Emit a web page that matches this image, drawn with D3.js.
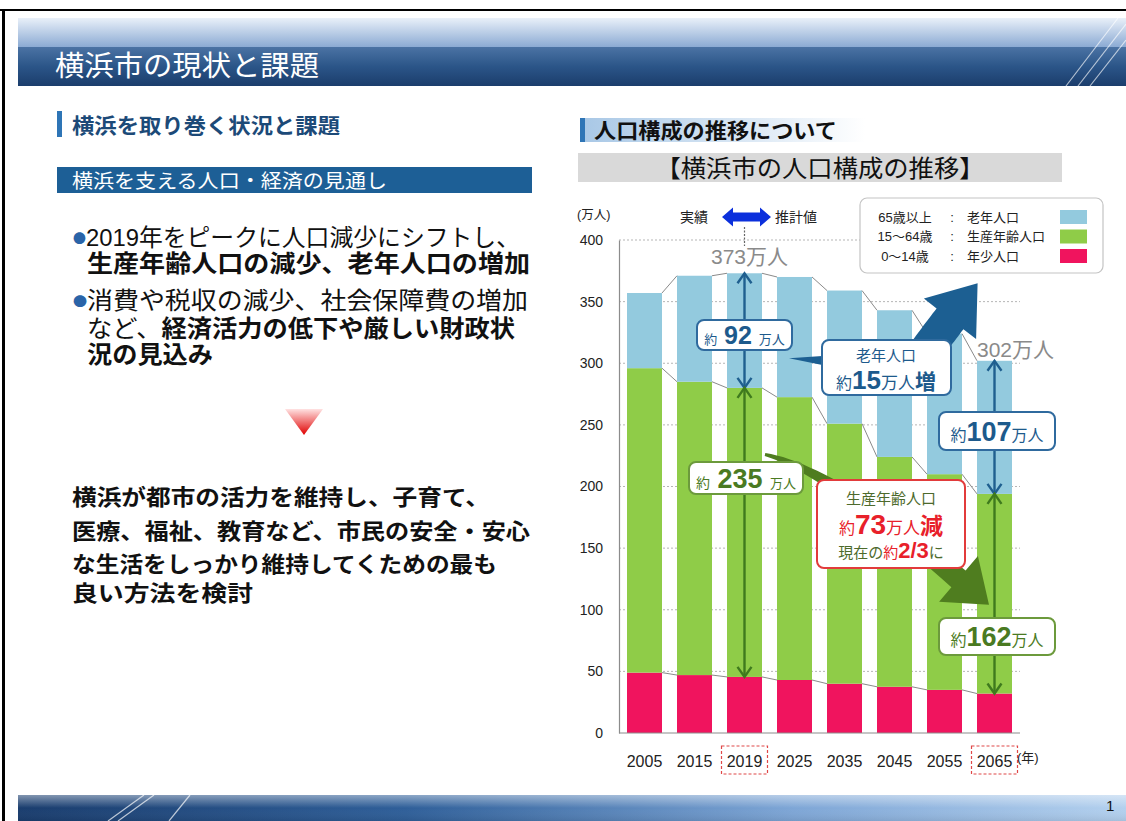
<!DOCTYPE html>
<html><head><meta charset="utf-8">
<script src="https://cdn.jsdelivr.net/npm/d3@7"></script>
<style>
body{margin:0;background:#fff;}
svg{display:block;font-family:"Liberation Sans","Noto Sans CJK JP",sans-serif;}
</style></head><body>
<svg id="chart" width="1126" height="821"></svg>
<script>
// data (万人)
const years = ["2005", "2015", "2019", "2025", "2035", "2045", "2055", "2065"];
const young = [49, 47, 45.5, 43, 40, 37.5, 35, 32];
const working = [247, 238, 234.5, 229.5, 211, 186.5, 175, 162];
const elderly = [61, 86, 93, 97.5, 108, 119, 114, 108];
const yTicks = [0, 50, 100, 150, 200, 250, 300, 350, 400];
const legendLeft = ["65歳以上", "15〜64歳", "0〜14歳"];
const legendRight = ["老年人口", "生産年齢人口", "年少人口"];
const keys = ["young", "working", "elderly"];
const colors = { young: "#f0145e", working: "#8fcc48", elderly: "#93cade" };

const table = years.map((yr, i) => ({ year: yr, young: young[i], working: working[i], elderly: elderly[i] }));

const svg = d3.select("#chart");
const defs = svg.append("defs");

function grad(id, stops, x2, y2) {
  const g = defs.append("linearGradient").attr("id", id)
    .attr("x1", 0).attr("y1", 0).attr("x2", x2).attr("y2", y2);
  stops.forEach(([o, c]) => g.append("stop").attr("offset", o).attr("stop-color", c));
}
grad("topLight", [[0, "#e9f0f9"], [1, "#88a8d2"]], 0, 1);
grad("topDark", [[0, "#4b73a4"], [0.5, "#2b5588"], [1, "#1b3d6c"]], 0, 1);
grad("botBar", [[0, "#1a3d6e"], [0.35, "#2f5f99"], [0.7, "#7ea6d6"], [1, "#b3d0ee"]], 1, 0);
grad("botShine", [[0, "rgba(255,255,255,0.45)"], [0.5, "rgba(255,255,255,0)"], [1, "rgba(0,0,0,0.08)"]], 0, 1);
grad("hdrFade", [[0, "#a9c8e6"], [1, "#ffffff"]], 1, 0);
grad("redTri", [[0, "#ffe2e2"], [1, "#e00000"]], 0, 1);

// ---- page frame and banners ----
svg.append("rect").attr("x", 0).attr("y", 9).attr("width", 1126).attr("height", 2).attr("fill", "#000");
svg.append("rect").attr("x", 2).attr("y", 9).attr("width", 3).attr("height", 812).attr("fill", "#000");

svg.append("rect").attr("x", 18).attr("y", 18).attr("width", 1108).attr("height", 30).attr("fill", "url(#topLight)");
svg.append("rect").attr("x", 18).attr("y", 47).attr("width", 1108).attr("height", 39).attr("fill", "url(#topDark)");
[[1066, 86, 1118, 18], [1078, 86, 1126, 24], [1090, 86, 1126, 40]].forEach(l =>
  svg.append("line").attr("x1", l[0]).attr("y1", l[1]).attr("x2", l[2]).attr("y2", l[3])
    .attr("stroke", "#fff").attr("stroke-opacity", 0.65).attr("stroke-width", 1.2));
svg.append("text").attr("x", 55).attr("y", 66).attr("dominant-baseline", "central")
  .attr("font-size", 28).attr("fill", "#fff").attr("textLength", 264).attr("lengthAdjust", "spacingAndGlyphs")
  .text("横浜市の現状と課題");

svg.append("rect").attr("x", 18).attr("y", 795).attr("width", 1108).attr("height", 26).attr("fill", "url(#botBar)");
svg.append("rect").attr("x", 18).attr("y", 795).attr("width", 1108).attr("height", 26).attr("fill", "url(#botShine)");
[[108, 821, 144, 795], [118, 821, 154, 795], [169, 821, 190, 795]].forEach(l =>
  svg.append("line").attr("x1", l[0]).attr("y1", l[1]).attr("x2", l[2]).attr("y2", l[3])
    .attr("stroke", "#fff").attr("stroke-opacity", 0.7).attr("stroke-width", 1.2));
svg.append("text").attr("x", 1106).attr("y", 805).attr("dominant-baseline", "central")
  .attr("font-size", 15).attr("fill", "#111").text("1");

// ---- left column ----
svg.append("rect").attr("x", 57).attr("y", 111).attr("width", 5).attr("height", 26).attr("fill", "#2e75b6");
svg.append("text").attr("x", 72).attr("y", 125).attr("dominant-baseline", "central")
  .attr("font-size", 21).attr("font-weight", "bold").attr("fill", "#1c4a78")
  .attr("textLength", 268).attr("lengthAdjust", "spacingAndGlyphs").text("横浜を取り巻く状況と課題");

svg.append("rect").attr("x", 57).attr("y", 167).attr("width", 475).attr("height", 26).attr("fill", "#1d5f96");
svg.append("text").attr("x", 72).attr("y", 181).attr("dominant-baseline", "central")
  .attr("font-size", 19).attr("fill", "#fff").attr("textLength", 315).attr("lengthAdjust", "spacingAndGlyphs")
  .text("横浜を支える人口・経済の見通し");

const bulletLines = [
  { x: 73, y: 237, w: 447, parts: [["●", "#2a64a8", "normal", 13], ["2019年をピークに人口減少にシフトし、", "#111", "normal"]] },
  { x: 87, y: 263, w: 443, parts: [["生産年齢人口の減少、老年人口の増加", "#111", "bold"]] },
  { x: 73, y: 300, w: 455, parts: [["●", "#2a64a8", "normal", 13], ["消費や税収の減少、社会保障費の増加", "#111", "normal"]] },
  { x: 87, y: 328, w: 428, parts: [["など、", "#111", "normal"], ["経済活力の低下や厳しい財政状", "#111", "bold"]] },
  { x: 87, y: 354, w: 126, parts: [["況の見込み", "#111", "bold"]] }
];
bulletLines.forEach(l => {
  const t = svg.append("text").attr("x", l.x).attr("y", l.y).attr("dominant-baseline", "central")
    .attr("font-size", 24).attr("textLength", l.w).attr("lengthAdjust", "spacingAndGlyphs");
  l.parts.forEach(p => {
    const ts = t.append("tspan").text(p[0]).attr("fill", p[1]).attr("font-weight", p[2])
      .attr("font-size", p[3] || 24);
    if (p[0] === "●") ts.attr("font-family", "Noto Sans CJK JP");
  });
});

svg.append("polygon").attr("points", "285,409 323,409 304,435").attr("fill", "url(#redTri)");

const paraLines = [
  ["横浜が都市の活力を維持し、子育て、", 497, 418],
  ["医療、福祉、教育など、市民の安全・安心", 531, 458],
  ["な生活をしっかり維持してくための最も", 564, 425],
  ["良い方法を検討", 593, 181]
];
paraLines.forEach(([s, y, w]) => svg.append("text").attr("x", 72).attr("y", y)
  .attr("dominant-baseline", "central").attr("font-size", 22).attr("font-weight", "bold").attr("fill", "#111")
  .attr("textLength", w).attr("lengthAdjust", "spacingAndGlyphs").text(s));

// ---- right column headers ----
svg.append("rect").attr("x", 585).attr("y", 118).attr("width", 280).attr("height", 24).attr("fill", "url(#hdrFade)");
svg.append("rect").attr("x", 580).attr("y", 118).attr("width", 5).attr("height", 24).attr("fill", "#2e75b6");
svg.append("text").attr("x", 594).attr("y", 130).attr("dominant-baseline", "central")
  .attr("font-size", 21).attr("font-weight", "bold").attr("fill", "#111")
  .attr("textLength", 243).attr("lengthAdjust", "spacingAndGlyphs").text("人口構成の推移について");

svg.append("rect").attr("x", 578).attr("y", 153).attr("width", 484).attr("height", 29).attr("fill", "#d9d9d9");
svg.append("text").attr("x", 820).attr("y", 168).attr("dominant-baseline", "central").attr("text-anchor", "middle")
  .attr("font-size", 24).attr("fill", "#111").attr("textLength", 329).attr("lengthAdjust", "spacingAndGlyphs")
  .text("【横浜市の人口構成の推移】");

// ---- chart ----
const x = d3.scaleBand().domain(years).range([619, 1020]).paddingInner(0.3).paddingOuter(0.16);
const y = d3.scaleLinear().domain([0, 400]).range([733, 240]);
const bw = x.bandwidth();
const xc = yr => x(yr) + bw / 2;

// dotted grid
svg.append("g").selectAll("line").data(yTicks.filter(d => d > 0)).join("line")
  .attr("x1", 619).attr("x2", 1020).attr("y1", d => y(d)).attr("y2", d => y(d))
  .attr("stroke", "#b5b5b5").attr("stroke-dasharray", "2,2").attr("stroke-width", 1);

const stacked = d3.stack().keys(keys)(table);
svg.append("g").selectAll("g").data(stacked).join("g")
  .attr("fill", d => colors[d.key])
  .selectAll("rect").data(d => d).join("rect")
  .attr("x", d => x(d.data.year)).attr("width", bw)
  .attr("y", d => y(d[1])).attr("height", d => y(d[0]) - y(d[1]));

// series lines between bars
const sl = svg.append("g").attr("stroke", "#8a8a8a").attr("stroke-width", 1).attr("fill", "none");
stacked.forEach(layer => {
  for (let i = 0; i < layer.length - 1; i++) {
    sl.append("line")
      .attr("x1", x(years[i]) + bw).attr("y1", y(layer[i][1]))
      .attr("x2", x(years[i + 1])).attr("y2", y(layer[i + 1][1]));
  }
});

// axes
const yAxis = svg.append("g").attr("transform", "translate(619,0)")
  .call(d3.axisLeft(y).tickValues(yTicks).tickSize(0).tickPadding(16));
yAxis.select(".domain").attr("stroke", "#8c8c8c").attr("stroke-width", 1.2);
yAxis.selectAll("text").attr("font-size", 14).attr("fill", "#222").attr("font-family", "Liberation Sans");

const xAxis = svg.append("g").attr("transform", "translate(0,733)")
  .call(d3.axisBottom(x).tickSize(0).tickPadding(23));
xAxis.select(".domain").attr("stroke", "#8c8c8c").attr("stroke-width", 1.2).attr("d", "M619,0H1020");
xAxis.selectAll("text").attr("font-size", 16).attr("fill", "#222").attr("font-family", "Liberation Sans");
["2019", "2065"].forEach(yr => svg.append("rect")
  .attr("x", xc(yr) - 23).attr("y", 746).attr("width", 46).attr("height", 28)
  .attr("fill", "none").attr("stroke", "#e04848").attr("stroke-width", 1.2).attr("stroke-dasharray", "3,2"));
svg.append("text").attr("x", 1017).attr("y", 757).attr("dominant-baseline", "central")
  .attr("font-size", 13).attr("fill", "#222").text("(年)");
svg.append("text").attr("x", 577).attr("y", 215).attr("dominant-baseline", "central")
  .attr("font-size", 12.5).attr("fill", "#222").text("(万人)");

// 実績 ⇔ 推計値
svg.append("text").attr("x", 680).attr("y", 217).attr("dominant-baseline", "central")
  .attr("font-size", 14).attr("fill", "#222").text("実績");
svg.append("text").attr("x", 775).attr("y", 217).attr("dominant-baseline", "central")
  .attr("font-size", 14).attr("fill", "#222").text("推計値");
svg.append("path").attr("fill", "#0c30dc")
  .attr("d", "M722,217 L733,207.5 L733,212.5 L760,212.5 L760,207.5 L771,217 L760,226.5 L760,221.5 L733,221.5 L733,226.5 Z");
svg.append("line").attr("x1", xc("2019")).attr("x2", xc("2019")).attr("y1", 227).attr("y2", 246)
  .attr("stroke", "#666").attr("stroke-dasharray", "2,1.5").attr("stroke-width", 1.2);

const total = i => young[i] + working[i] + elderly[i];
svg.append("text").attr("x", xc("2019") + 5).attr("y", 256).attr("dominant-baseline", "central")
  .attr("text-anchor", "middle").attr("font-size", 21).attr("fill", "#8a8a8a").text(total(2) + "万人");
svg.append("text").attr("x", xc("2065") + 21).attr("y", 349).attr("dominant-baseline", "central")
  .attr("text-anchor", "middle").attr("font-size", 21).attr("fill", "#8a8a8a").text(total(7) + "万人");

// block arrow along a quadratic curve, tapered shaft
function blockArrow(p0, c, p1, w0, w1, hw, hl) {
  const n = 24, left = [], right = [];
  const pt = t => [(1 - t) * (1 - t) * p0[0] + 2 * (1 - t) * t * c[0] + t * t * p1[0],
                   (1 - t) * (1 - t) * p0[1] + 2 * (1 - t) * t * c[1] + t * t * p1[1]];
  const tan = t => [2 * (1 - t) * (c[0] - p0[0]) + 2 * t * (p1[0] - c[0]),
                    2 * (1 - t) * (c[1] - p0[1]) + 2 * t * (p1[1] - c[1])];
  let dir = [0, 0];
  for (let i = 0; i <= n; i++) {
    const t = i / n, p = pt(t), d = tan(t), L = Math.hypot(d[0], d[1]);
    dir = [d[0] / L, d[1] / L];
    const nx = -dir[1], ny = dir[0], w = w0 + (w1 - w0) * t;
    left.push([p[0] + nx * w, p[1] + ny * w]);
    right.push([p[0] - nx * w, p[1] - ny * w]);
  }
  const nx = -dir[1], ny = dir[0];
  const head = [[p1[0] + nx * hw, p1[1] + ny * hw], [p1[0] + dir[0] * hl, p1[1] + dir[1] * hl],
                [p1[0] - nx * hw, p1[1] - ny * hw]];
  const pts = left.concat(head, right.reverse());
  return "M" + pts.map(p => p[0].toFixed(1) + "," + p[1].toFixed(1)).join("L") + "Z";
}

// green sweeping arrow (working-age decrease)
svg.append("path").attr("fill", "#4f7d1f")
  .attr("d", blockArrow([x("2019") + bw + 3, y(226)], [x("2035") + 2, y(214)], [xc("2065") - 36, y(125)], 1.5, 11, 30, 40));
// blue rising arrow (elderly increase)
svg.append("path").attr("fill", "#1c5f92")
  .attr("d", blockArrow([x("2055") - 22, y(286)], [x("2055") + 1, y(313)], [x("2055") + 23, y(336)], 17, 17, 33, 45));
// callout tail
svg.append("polygon").attr("fill", "#1c5f92")
  .attr("points", `${x("2025") + 12},${y(304)} 826,${y(306)} 826,${y(298)}`);

// double-headed measurement arrows
function dArrow(yr, v0, v1, color) {
  const cx = xc(yr), a = y(v0), b = y(v1);
  const g = svg.append("g").attr("stroke", color).attr("stroke-width", 2.4).attr("fill", "none");
  g.append("line").attr("x1", cx).attr("x2", cx).attr("y1", a).attr("y2", b);
  g.append("polyline").attr("points", `${cx - 7},${a + 10} ${cx},${a} ${cx + 7},${a + 10}`);
  g.append("polyline").attr("points", `${cx - 7},${b - 10} ${cx},${b} ${cx + 7},${b - 10}`);
}
dArrow("2019", total(2), young[2] + working[2], "#1f5f8f");
dArrow("2019", young[2] + working[2], young[2], "#3f7a1e");
dArrow("2065", total(7), young[7] + working[7], "#1f5f8f");
dArrow("2065", young[7] + working[7], young[7], "#3f7a1e");

function box(x0, y0, x1, y1, stroke) {
  svg.append("rect").attr("x", x0).attr("y", y0).attr("width", x1 - x0).attr("height", y1 - y0)
    .attr("rx", 7).attr("fill", "#fff").attr("stroke", stroke).attr("stroke-width", 2);
}
function rich(cx, yb, parts) {
  const t = svg.append("text").attr("x", cx).attr("y", yb).attr("text-anchor", "middle");
  parts.forEach(([s, size, fill, weight]) => t.append("tspan").text(s).attr("font-size", size)
    .attr("fill", fill).attr("font-weight", weight || "normal"));
}
const blueT = "#1d5a8c", greenT = "#4a7a22", redT = "#e8202a", oliveT = "#4d6a2c";

box(697, 320, 792, 350, "#2f6a9e");
rich(744.5, 344, [["約", 13, blueT], [" 92 ", 25, blueT, "bold"], ["万人", 13, blueT]]);
box(689, 462, 803, 494, "#6c9a3c");
rich(746, 488, [["約", 14, greenT], [" 235 ", 27, greenT, "bold"], ["万人", 13, greenT]]);
box(939, 412, 1055, 450, "#2f6a9e");
rich(997, 441, [["約", 16, blueT], ["107", 27, blueT, "bold"], ["万人", 16, blueT]]);
box(939, 618, 1055, 655, "#6c9a3c");
rich(997, 646, [["約", 16, greenT], ["162", 27, greenT, "bold"], ["万人", 16, greenT]]);

box(822, 340, 951, 395, "#2f6a9e");
rich(886, 361, [["老年人口", 15, blueT]]);
rich(886, 389, [["約", 16, blueT], ["15", 26, blueT, "bold"], ["万人", 17, blueT], ["増", 21, blueT, "bold"]]);

box(817, 480, 965, 568, "#e23b3b");
rich(891, 504, [["生産年齢人口", 15, oliveT]]);
rich(891, 534, [["約", 16, redT], ["73", 28, redT, "bold"], ["万人", 17, redT], ["減", 23, redT, "bold"]]);
rich(891, 558, [["現在の", 15, oliveT], ["約", 15, redT], ["2/3", 22, redT, "bold"], ["に", 15, oliveT]]);

// legend
svg.append("rect").attr("x", 860).attr("y", 198).attr("width", 243).attr("height", 75).attr("rx", 7)
  .attr("fill", "#fff").attr("stroke", "#c4c4c4").attr("stroke-width", 1.2);
const legendKeys = ["elderly", "working", "young"];
legendKeys.forEach((k, i) => {
  const ly = 217 + i * 19.5;
  svg.append("text").attr("x", 905).attr("y", ly).attr("text-anchor", "middle").attr("dominant-baseline", "central")
    .attr("font-size", 13).attr("fill", "#222").text(legendLeft[i]);
  svg.append("text").attr("x", 952).attr("y", ly).attr("text-anchor", "middle").attr("dominant-baseline", "central")
    .attr("font-size", 13).attr("fill", "#222").text(":");
  svg.append("text").attr("x", 967).attr("y", ly).attr("dominant-baseline", "central")
    .attr("font-size", 13).attr("fill", "#222").text(legendRight[i]);
  svg.append("rect").attr("x", 1060).attr("y", ly - 7).attr("width", 27).attr("height", 14).attr("fill", colors[k]);
});
</script>
</body></html>
